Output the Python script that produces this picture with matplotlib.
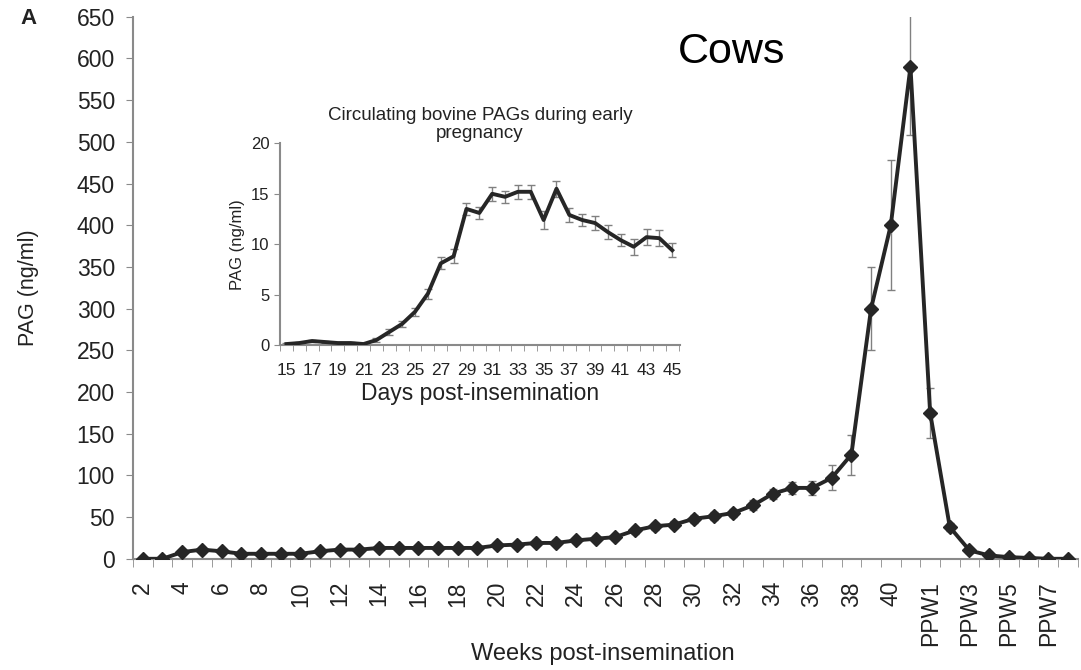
import numpy as np
import matplotlib
matplotlib.use("Agg")
import matplotlib.pyplot as plt

plt.rcParams['font.family'] = ['Liberation Sans', 'DejaVu Sans']

# -------------------------------
# Main series: weeks post-insemination + post-partum weeks
# -------------------------------
week_labels = [str(w) for w in range(2, 42)] + [f"PPW{i}" for i in range(1, 9)]
pag_weeks = [0, 0, 8, 11, 9, 6, 6, 6, 6, 9,
             11, 11, 13, 13, 13, 13, 13, 13, 16, 17,
             19, 19, 22, 24, 26, 34, 39, 41, 48, 51,
             55, 64, 78, 85, 85, 97, 125, 300, 400, 590,
             175, 38, 10, 4, 2, 1, 0, 0]
pag_weeks_err = [1, 1, 2, 2, 2, 2, 2, 2, 2, 2,
                 2, 2, 2, 2, 2, 2, 2, 2, 2, 2,
                 3, 3, 3, 3, 3, 4, 4, 4, 5, 5,
                 5, 6, 6, 7, 8, 15, 24, 50, 78, 82,
                 30, 5, 3, 2, 1, 1, 1, 1]

# Inset: days post-insemination
days = list(range(15, 46))
pag_days = [0.1, 0.2, 0.4, 0.3, 0.2, 0.2, 0.1, 0.5, 1.3, 2.1,
            3.3, 5.1, 8.1, 8.8, 13.5, 13.1, 15.0, 14.7, 15.2, 15.2,
            12.4, 15.5, 12.9, 12.4, 12.1, 11.2, 10.4, 9.75, 10.7, 10.6,
            9.4]
pag_days_err = [0.1, 0.1, 0.1, 0.1, 0.1, 0.1, 0.1, 0.2, 0.3, 0.3,
                0.4, 0.5, 0.6, 0.7, 0.6, 0.6, 0.7, 0.6, 0.7, 0.7,
                0.9, 0.8, 0.7, 0.6, 0.7, 0.7, 0.6, 0.8, 0.8, 0.8,
                0.7]

SPINE = "#8a8a8a"
LINE = "#262626"
TXT = "#222222"

fig = plt.figure(figsize=(10.81, 6.70), dpi=100)
ax = fig.add_axes([0.123, 0.166, 0.874, 0.809])

xi = np.arange(len(week_labels))
ax.errorbar(xi, pag_weeks, yerr=pag_weeks_err, fmt="none", ecolor="#808080",
            elinewidth=1.0, capsize=3, capthick=1.0, zorder=2)
ax.plot(xi, pag_weeks, color=LINE, lw=2.8, marker="D", ms=7,
        mfc=LINE, mec=LINE, zorder=3)

ax.set_xlim(-0.5, len(week_labels) - 0.5)
ax.set_ylim(0, 650)
ax.set_yticks(np.arange(0, 651, 50))
ax.tick_params(axis="y", labelsize=16.5, length=5, color=SPINE, labelcolor=TXT,
               direction="out", pad=8)
ax.set_xticks(xi[::2])
ax.set_xticklabels(week_labels[::2], rotation=90, fontsize=16.5, color=TXT)
ax.set_xticks(np.arange(-0.5, len(week_labels)), minor=True)
ax.tick_params(axis="x", which="major", length=0, pad=16)
ax.tick_params(axis="x", which="minor", length=6, color=SPINE, direction="out")
for s in ["top", "right"]:
    ax.spines[s].set_visible(False)
for s in ["left", "bottom"]:
    ax.spines[s].set_color(SPINE)
    ax.spines[s].set_linewidth(1.5)
ax.set_ylabel("PAG (ng/ml)", fontsize=15.5, color=TXT)
ax.yaxis.set_label_coords(-0.099, 0.5)
ax.set_xlabel("Weeks post-insemination", fontsize=17, color=TXT)
ax.xaxis.set_label_coords(0.497, -0.155)

fig.text(0.019, 0.972, "A", fontsize=16, fontweight="bold", color=TXT, va="center")
fig.text(0.677, 0.922, "Cows", fontsize=31, color="black", ha="center", va="center",
         family=["Liberation Sans Narrow", "Liberation Sans"])

# -------------------------------
# Inset
# -------------------------------
ins = fig.add_axes([0.259, 0.485, 0.370, 0.301])
ins.errorbar(days, pag_days, yerr=pag_days_err, fmt="none", ecolor="#808080",
             elinewidth=1.0, capsize=3, capthick=1.0, zorder=2)
ins.plot(days, pag_days, color=LINE, lw=2.8, zorder=3)
ins.set_xlim(14.5, 45.6)
ins.set_ylim(0, 20)
ins.set_yticks([0, 5, 10, 15, 20])
ins.set_xticks(days[::2])
ins.set_xticks(np.arange(14.5, 46, 1), minor=True)
ins.tick_params(axis="x", which="major", length=0, labelsize=12.5, pad=13, labelcolor=TXT)
ins.tick_params(axis="x", which="minor", length=4, color=SPINE)
ins.tick_params(axis="y", labelsize=12, length=4, color=SPINE, labelcolor=TXT)
for s in ["top", "right"]:
    ins.spines[s].set_visible(False)
for s in ["left", "bottom"]:
    ins.spines[s].set_color(SPINE)
    ins.spines[s].set_linewidth(1.5)
ins.patch.set_alpha(0)
ins.set_ylabel("PAG (ng/ml)", fontsize=12, color=TXT)
ins.yaxis.set_label_coords(-0.088, 0.5)
ins.set_xlabel("Days post-insemination", fontsize=16.5, color=TXT, labelpad=3)
ins.set_title("Circulating bovine PAGs during early\npregnancy", fontsize=13.5,
              color=TXT, pad=4, linespacing=1.1)

fig.savefig("out.png", dpi=100)
